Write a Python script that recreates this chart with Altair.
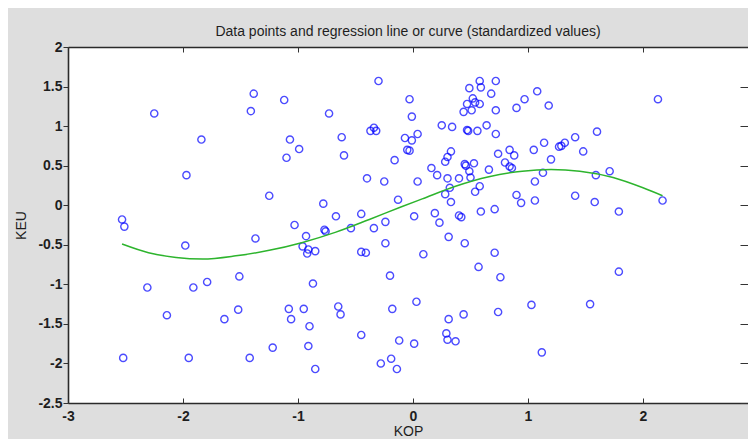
import altair as alt
import pandas as pd

# ---- data (standardized values) ----
kop = [
    -2.25, -1.385, -1.41, -1.84, -1.97, -1.12, -1.07, -0.99, -1.10, -1.25,
    -0.73, -0.62, -0.60, -0.37, -0.34, -0.32, -0.30, -0.40, -0.78, -0.67,
    -0.45, -2.53, -2.51, -1.98, -1.37, -2.31, -1.91, -1.79, -1.51, -2.14,
    -1.64, -1.52, -2.52, -1.95, -1.42, -1.22, -1.03, -0.93, -0.96, -0.91,
    -0.92, -0.85, -0.77, -0.76, -0.87, -1.08, -1.06, -0.95, -0.90, -0.91,
    -0.85, -0.65, -0.63, -0.45, -0.28, -0.54, -0.34, -0.45, -0.41,
    -0.03, -0.01, -0.07, -0.01, 0.04, -0.05, -0.03, -0.16, -0.25, 0.04,
    -0.13, 0.01, -0.24,
    0.58, 0.72, 0.49, 0.59, 0.68, 0.52, 0.47, 0.54, 0.58, 0.44,
    0.51, 0.72, 0.90, 0.97, 1.08, 1.18, 0.25, 0.34, 0.47, 0.48,
    0.56, 0.64, 0.72, 0.74, 0.84, 0.80, 0.84, 0.86, 0.88, 1.05,
    1.14, 1.20, 1.27, 1.13, 1.06, 0.33, 0.30, 0.28, 0.16, 0.21,
    0.45, 0.46, 0.53, 0.49, 0.50, 0.66, 0.40, 0.30, 0.32, 0.28,
    0.33, 0.58, 0.54, 0.90, 0.94, 1.06, 0.19, 0.23, 0.40, 0.42,
    0.59, 0.71,
    2.13, 1.60, 1.41, 1.32, 1.29, 1.48, 1.71, 1.59, 2.17, 1.41,
    1.58, 1.79,
    -0.24, 0.09, -0.20, -0.18, 0.03, -0.12, 0.01, -0.19, -0.14, 0.31,
    0.45, 0.71, 0.57, 0.76, 0.31, 0.44, 0.74, 1.03, 0.29, 0.30,
    0.37, 1.12, 1.54, 1.79,
]
keu = [
    1.16, 1.41, 1.19, 0.83, 0.38, 1.33, 0.83, 0.71, 0.60, 0.12,
    1.16, 0.86, 0.63, 0.94, 0.98, 0.94, 1.57, 0.34, 0.02, -0.14,
    -0.11, -0.18, -0.27, -0.51, -0.42, -1.04, -1.04, -0.97, -0.90, -1.39,
    -1.44, -1.32, -1.93, -1.93, -1.93, -1.80, -0.25, -0.39, -0.52, -0.56,
    -0.61, -0.58, -0.31, -0.33, -0.99, -1.31, -1.44, -1.31, -1.53, -1.78,
    -2.07, -1.28, -1.38, -1.64, -2.00, -0.29, -0.29, -0.59, -0.60,
    1.34, 1.12, 0.85, 0.82, 0.90, 0.70, 0.69, 0.57, 0.30, 0.30,
    0.07, -0.14, -0.21,
    1.57, 1.57, 1.48, 1.49, 1.41, 1.35, 1.28, 1.30, 1.28, 1.18,
    1.20, 1.20, 1.23, 1.34, 1.44, 1.26, 1.01, 0.99, 0.95, 0.94,
    0.94, 1.01, 0.90, 0.65, 0.70, 0.54, 0.49, 0.47, 0.63, 0.70,
    0.79, 0.58, 0.74, 0.41, 0.30, 0.68, 0.61, 0.55, 0.47, 0.38,
    0.52, 0.50, 0.53, 0.43, 0.35, 0.45, 0.34, 0.34, 0.22, 0.14,
    0.04, 0.24, 0.17, 0.13, 0.03, 0.06, -0.10, -0.22, -0.13, -0.15,
    -0.08, -0.05,
    1.34, 0.93, 0.86, 0.79, 0.75, 0.68, 0.43, 0.38, 0.06, 0.12,
    0.04, -0.08,
    -0.48, -0.62, -0.89, -1.31, -1.22, -1.71, -1.75, -1.94, -2.07, -0.40,
    -0.48, -0.60, -0.78, -0.91, -1.44, -1.38, -1.35, -1.26, -1.62, -1.70,
    -1.72, -1.86, -1.25, -0.84,
]

# regression curve
curve_kop = [-2.53, -2.30, -2.06, -1.83, -1.54, -1.25, -0.96, -0.67, -0.38,
             -0.10, 0.08, 0.37, 0.66, 0.95, 1.20, 1.45, 1.74, 2.00, 2.17]
curve_keu = [-0.49, -0.60, -0.66, -0.68, -0.64, -0.57, -0.47, -0.34, -0.18,
             -0.02, 0.08, 0.24, 0.36, 0.43, 0.45, 0.43, 0.35, 0.22, 0.12]

x_ticks = [-3, -2, -1, 0, 1, 2, 3]
y_ticks = [-2.5, -2, -1.5, -1, -0.5, 0, 0.5, 1, 1.5, 2]
x_domain = [-3, 2.913]   # right part of the axes box is cut off in the reference
y_domain = [-2.5, 2]

pts = pd.DataFrame({"KOP": kop, "KEU": keu})
crv = pd.DataFrame({"KOP": curve_kop, "KEU": curve_keu})

FONT = "Liberation Sans"
INK = "#1e1e1e"
FRAME = "#2a2a2a"
LBL = "'' + datum.value"

xscale = alt.Scale(domain=x_domain, nice=False, zero=False)
yscale = alt.Scale(domain=y_domain, nice=False, zero=False)

# layer 1: data points, with bottom labels/frame and left labels/frame
points = alt.Chart(pts).mark_point(
    shape="circle", filled=False, color="#0000ff", size=52, strokeWidth=1.4,
    clip=True,
).encode(
    x=alt.X("KOP:Q", scale=xscale, axis=alt.Axis(
        orient="bottom", values=x_ticks, title="KOP", grid=False,
        domain=True, domainColor=FRAME, domainWidth=1.6,
        ticks=False, tickSize=0, labelPadding=6, labelExpr=LBL,
        labelFont=FONT, labelFontSize=14, labelFontWeight="bold", labelColor=INK,
        labelFlush=False, labelOverlap=False,
        titleFont=FONT, titleFontSize=14, titleFontWeight="normal", titleColor=INK,
        titlePadding=1)),
    y=alt.Y("KEU:Q", scale=yscale, axis=alt.Axis(
        orient="left", values=y_ticks, title="KEU", grid=False,
        domain=True, domainColor=FRAME, domainWidth=1.6,
        tickSize=5, tickColor="#333333", labelPadding=1, labelExpr=LBL,
        labelFont=FONT, labelFontSize=14, labelFontWeight="bold", labelColor=INK,
        labelFlush=False, labelOverlap=False,
        titleFont=FONT, titleFontSize=14, titleFontWeight="normal", titleColor=INK,
        titlePadding=9)),
)

# layer 2: regression curve, with top frame and right inward ticks
curve = alt.Chart(crv).mark_line(
    color="#2db42d", strokeWidth=1.5, interpolate="monotone", clip=True
).encode(
    x=alt.X("KOP:Q", scale=xscale, axis=alt.Axis(
        orient="top", values=x_ticks, title="", labels=False, grid=False,
        domain=True, domainColor=FRAME, domainWidth=1.6, ticks=False)),
    y=alt.Y("KEU:Q", scale=yscale, axis=alt.Axis(
        orient="right", values=y_ticks, title="", labels=False, grid=False,
        domain=False, tickSize=8, offset=-8, tickColor="#333333")),
)

# layers 3 and 4: invisible copies that carry the inward ticks at bottom and top
ticks_bottom = alt.Chart(crv).mark_line(opacity=0).encode(
    x=alt.X("KOP:Q", scale=xscale, axis=alt.Axis(
        orient="bottom", values=x_ticks, title="", labels=False, grid=False,
        domain=False, tickSize=5, offset=-5, tickColor="#333333")),
    y=alt.Y("KEU:Q", scale=yscale, axis=None),
)
ticks_top = alt.Chart(crv).mark_line(opacity=0).encode(
    x=alt.X("KOP:Q", scale=xscale, axis=alt.Axis(
        orient="top", values=x_ticks, title="", labels=False, grid=False,
        domain=False, tickSize=5, offset=-5, tickColor="#333333")),
    y=alt.Y("KEU:Q", scale=yscale, axis=None),
)

chart = alt.layer(points, curve, ticks_bottom, ticks_top).resolve_axis(
    x="independent", y="independent"
).properties(
    width=680,
    height=356,
    title=alt.TitleParams(
        "Data points and regression line or curve (standardized values)",
        font=FONT, fontSize=14, fontWeight="normal", color=INK,
        anchor="middle", frame="group", offset=1),
    autosize=alt.AutoSizeParams(type="none"),
    padding={"left": 60, "top": 39, "right": 0, "bottom": 36},
    background="#dedede",
).configure_view(
    fill="white", stroke=None
)

chart.save("out.html", embed_options={"renderer": "svg", "actions": False})
